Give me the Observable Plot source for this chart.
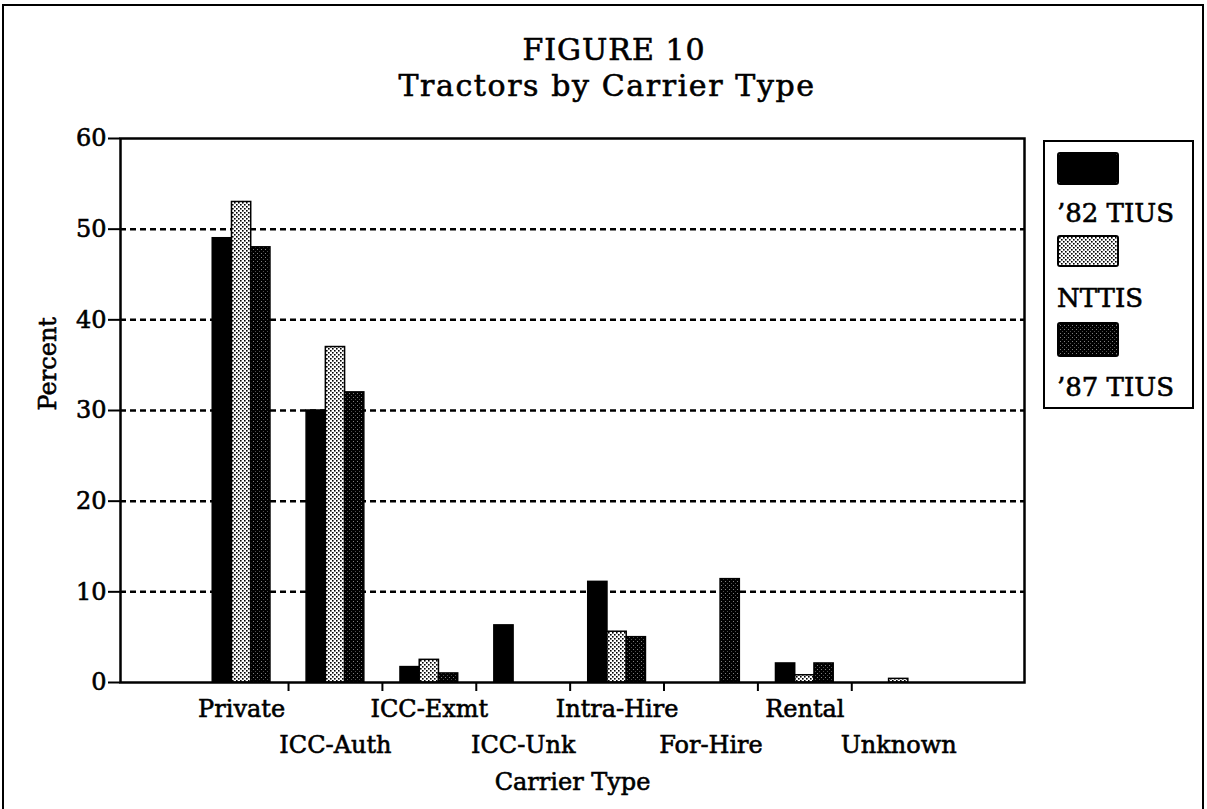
<!DOCTYPE html>
<html><head><meta charset="utf-8">
<script src="https://cdn.jsdelivr.net/npm/d3@7"></script>
<script src="https://cdn.jsdelivr.net/npm/@observablehq/plot@0.6"></script>
<style>
body{margin:0;background:#fff;}
#wrap{position:relative;width:1207px;height:809px;overflow:hidden;font-family:"DejaVu Serif",serif;color:#000;background:#fff;}
#border{position:absolute;left:2px;top:4px;width:1202px;height:820px;border:2.5px solid #000;box-sizing:border-box;}
.t{position:absolute;left:0;text-align:center;font-size:30px;line-height:30px;white-space:nowrap;-webkit-text-stroke:0.6px #000;}
#chart{position:absolute;left:0;top:0;}
#chart svg text{stroke:#000;stroke-width:0.6px;paint-order:stroke;}
#legend{position:absolute;left:1043px;top:140px;width:151px;height:269px;border:2px solid #000;box-sizing:border-box;}
.sw{position:absolute;left:1057px;width:62px;box-sizing:border-box;border:2px solid #000;border-radius:3px;}
.lt{position:absolute;left:1057px;font-size:26px;line-height:26px;white-space:nowrap;-webkit-text-stroke:0.6px #000;}
</style></head>
<body>
<svg width="0" height="0" style="position:absolute">
  <defs>
    <pattern id="pNTTIS" patternUnits="userSpaceOnUse" width="4" height="4">
      <rect width="4" height="4" fill="#fff"/>
      <rect x="0" y="0" width="1.6" height="1.6" fill="#000"/>
      <rect x="2" y="2" width="1.6" height="1.6" fill="#000"/>
    </pattern>
    <pattern id="p87" patternUnits="userSpaceOnUse" width="4" height="4">
      <rect width="4" height="4" fill="#000"/>
      <rect x="1" y="1" width="1" height="1" fill="#fff" fill-opacity="0.5"/>
      <rect x="3" y="3" width="1" height="1" fill="#fff" fill-opacity="0.3"/>
    </pattern>
  </defs>
</svg>
<div id="wrap">
  <div id="border"></div>
  <div class="t" style="top:35px;width:1228px;letter-spacing:1px;">FIGURE 10</div>
  <div class="t" style="top:71px;width:1214px;letter-spacing:1.6px;">Tractors by Carrier Type</div>
  <div id="chart"></div>
  <div id="legend"></div>
  <svg class="sw" style="top:152px;height:33px;"><rect width="100%" height="100%" fill="#000"/></svg>
  <div class="lt" style="top:200px;">’82 TIUS</div>
  <svg class="sw" style="top:235px;height:32px;"><rect width="100%" height="100%" fill="url(#pNTTIS)"/></svg>
  <div class="lt" style="top:285px;">NTTIS</div>
  <svg class="sw" style="top:322px;height:35px;"><rect width="100%" height="100%" fill="url(#p87)"/></svg>
  <div class="lt" style="top:374px;">’87 TIUS</div>
</div>
<script>
// ---- data ----
const categories = ["Private", "ICC-Auth", "ICC-Exmt", "ICC-Unk", "Intra-Hire", "For-Hire", "Rental", "Unknown"];
const seriesNames = ["’82 TIUS", "NTTIS", "’87 TIUS"];
const tius82 = [49, 30, 1.7, 6.3, 11.1, 0, 2.1, 0];
const nttis  = [53, 37, 2.5, 0, 5.6, 0, 0.8, 0.4];
const tius87 = [48, 32, 1.0, 0, 5.0, 11.4, 2.1, 0];
const yTicks = [0, 10, 20, 30, 40, 50, 60];
const gridValues = [10, 20, 30, 40, 50];

const seriesValues = [tius82, nttis, tius87];
const fills = ["#000", "url(#pNTTIS)", "url(#p87)"];
const bw = 0.205;
const rows = seriesValues.map((vals, j) =>
  categories.map((c, i) => ({cat: c, i, j, series: seriesNames[j], value: vals[i]})).filter(d => d.value > 0)
);

const font = "DejaVu Serif";
const plot = Plot.plot({
  width: 1207, height: 809,
  marginLeft: 120, marginRight: 183, marginTop: 138, marginBottom: 127,
  x: {domain: [-0.79, 8.84], axis: null},
  y: {domain: [0, 60], axis: null},
  style: {fontFamily: font, fontSize: "24px", background: "transparent", color: "#000"},
  marks: [
    Plot.ruleY(gridValues, {strokeDasharray: "6,4", strokeWidth: 2.5}),
    ...rows.map((data, j) => Plot.rectY(data, {
      x1: d => d.i + 0.5 + (d.j - 1.5) * bw,
      x2: d => d.i + 0.5 + (d.j - 0.5) * bw,
      y1: 0, y2: "value",
      fill: fills[j], stroke: "#000", strokeWidth: 1.5
    })),
    Plot.frame({strokeWidth: 2.5}),
    Plot.axisY({ticks: yTicks, tickSize: 12, tickPadding: 2, tickFormat: d => String(d), fontSize: 24, label: null, strokeWidth: 2}),
    Plot.axisX({ticks: [1, 2, 3, 4, 5, 6, 7], tickSize: 9, tickFormat: () => "", label: null, strokeWidth: 2}),
    Plot.text(categories, {filter: (d, i) => i % 2 === 0, x: (d, i) => i + 0.5, y: 0, dy: 26.5, lineAnchor: "middle", fontSize: 24}),
    Plot.text(categories, {filter: (d, i) => i % 2 === 1, x: (d, i) => i + 0.5, y: 0, dy: 63, lineAnchor: "middle", fontSize: 24}),
    Plot.text(["Carrier Type"], {frameAnchor: "bottom", lineAnchor: "middle", dy: 99.5, fontSize: 24}),
    Plot.text(["Percent"], {frameAnchor: "left", rotate: -90, dx: -72, lineAnchor: "middle", fontSize: 24})
  ]
});
document.getElementById("chart").appendChild(plot);
</script>
</body></html>
